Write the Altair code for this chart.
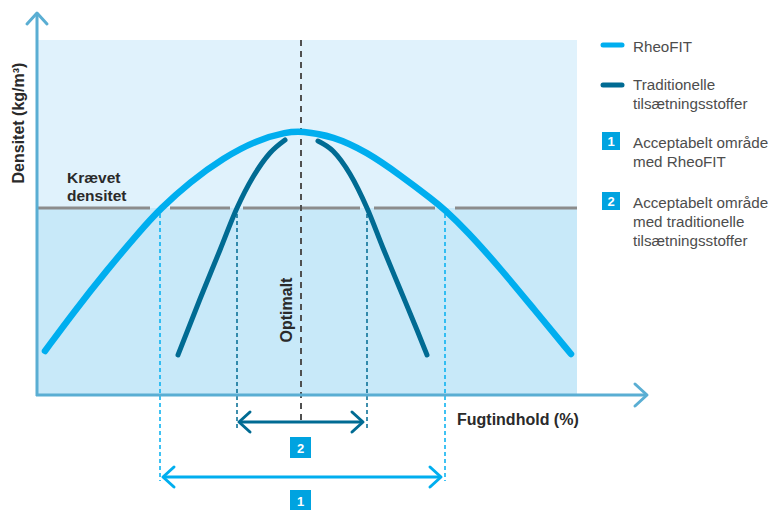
import altair as alt
import pandas as pd

# ---------------- data (diagram units: x = moisture, y = density drawn downward) ----------------
# RheoFIT curve
rheo_x = [45, 73, 107, 140, 160, 190, 223, 257, 287, 301, 333, 367, 400, 433, 444, 467, 500, 533, 571]
rheo_y = [351, 313, 270, 231, 209, 182, 158, 140, 132, 131, 136, 152, 175, 200, 209, 231, 268, 308, 354]
# Traditional admixtures curve (two visible pieces, passes under the RheoFIT peak)
trad_left_x = [178, 200, 220, 237, 253, 270, 285]
trad_left_y = [355, 299, 250, 208, 177, 153, 140]
trad_right_x = [318, 333, 350, 367, 383, 400, 417, 427]
trad_right_y = [141, 151, 174, 208, 248, 289, 330, 355]

required_density = 208
optimum_x = 301
rheo_range = [160, 445]
trad_range = [237, 367]

# texts
req_label = ["Krævet", "densitet"]
x_title = "Fugtindhold (%)"
y_title = "Densitet (kg/m³)"
opt_label = "Optimalt"
legend_lines = ["RheoFIT", "Traditionelle", "tilsætningsstoffer",
                "Acceptabelt område", "med RheoFIT",
                "Acceptabelt område", "med traditionelle", "tilsætningsstoffer"]
badge_labels = ["1", "2"]

# colours
C_LIGHT = "#00aeef"
C_DARK = "#006b93"
C_AXIS = "#5aaed3"
C_UP = "#e0f2fc"
C_LOW = "#c8e9f9"
C_GRAY = "#8c8c8c"
C_BADGE = "#00a3e0"

# ---------------- scales ----------------
XS = alt.Scale(domain=[8, 769], nice=False, zero=False)
YS = alt.Scale(domain=[8, 502], nice=False, zero=False, reverse=True)


def X(f="x"):
    return alt.X(f"{f}:Q", scale=XS, axis=None)


def Y(f="y"):
    return alt.Y(f"{f}:Q", scale=YS, axis=None)


# background bands
bands = pd.DataFrame({"x": [37, 37], "x2": [577, 577],
                      "y": [40, required_density], "y2": [required_density, 395],
                      "c": [C_UP, C_LOW]})
bg = alt.Chart(bands).mark_rect().encode(
    x=X(), x2="x2:Q", y=Y(), y2="y2:Q", color=alt.Color("c:N", scale=None))

# required density line with gaps where curves cross
seg = pd.DataFrame({"x": [37, 170, 243, 374, 455], "x2": [150, 230, 360, 435, 577],
                    "y": [required_density] * 5})
req_line = alt.Chart(seg).mark_rule(color=C_GRAY, strokeWidth=3).encode(x=X(), x2="x2:Q", y=Y())

# dashed verticals
dv = pd.DataFrame({"x": [rheo_range[0], rheo_range[1], trad_range[0], trad_range[1]],
                   "y": [214, 214, 214, 214], "y2": [481, 481, 431, 431],
                   "c": [C_LIGHT, C_LIGHT, C_DARK, C_DARK]})
dashes = alt.Chart(dv).mark_rule(strokeDash=[4, 3], strokeWidth=1.5).encode(
    x=X(), y=Y(), y2="y2:Q", color=alt.Color("c:N", scale=None))

opt = pd.DataFrame({"x": [optimum_x], "y": [40], "y2": [420]})
opt_line = alt.Chart(opt).mark_rule(strokeDash=[6, 5], strokeWidth=2, color="#505050").encode(
    x=X(), y=Y(), y2="y2:Q")

# curves
rheo = pd.DataFrame({"x": rheo_x, "y": rheo_y})
rheo_line = alt.Chart(rheo).mark_line(color=C_LIGHT, strokeWidth=6.5, strokeCap="round",
                                      interpolate="basis").encode(x=X(), y=Y())
trad = pd.DataFrame({"x": trad_left_x + trad_right_x, "y": trad_left_y + trad_right_y,
                     "g": ["a"] * len(trad_left_x) + ["b"] * len(trad_right_x)})
trad_line = alt.Chart(trad).mark_line(color=C_DARK, strokeWidth=5, strokeCap="round",
                                      interpolate="monotone").encode(x=X(), y=Y(), detail="g:N")

# axes (lines + arrow heads)
ax = pd.DataFrame({"x": [37, 36], "x2": [37, 647], "y": [13, 395], "y2": [396, 395]})
axes = alt.Chart(ax).mark_rule(color=C_AXIS, strokeWidth=3).encode(x=X(), x2="x2:Q", y=Y(), y2="y2:Q")


def chevrons(pts, color, width):
    rows = []
    for gi, p in enumerate(pts):
        for oi, (px, py) in enumerate(p):
            rows.append({"x": px, "y": py, "g": gi, "o": oi})
    return alt.Chart(pd.DataFrame(rows)).mark_line(
        color=color, strokeWidth=width, strokeCap="round", strokeJoin="round").encode(
        x=X(), y=Y(), detail="g:N", order="o:Q")


axis_heads = chevrons([[(27, 24), (37, 13), (47, 24)],
                       [(635, 384), (647, 395), (635, 406)]], C_AXIS, 3)

# range arrows
shafts = pd.DataFrame({"x": [239, 163], "x2": [363, 441], "y": [422, 477],
                       "c": [C_DARK, C_LIGHT]})
shaft = alt.Chart(shafts).mark_rule(strokeWidth=3).encode(
    x=X(), x2="x2:Q", y=Y(), color=alt.Color("c:N", scale=None))
dark_heads = chevrons([[(250, 412), (239, 422), (250, 432)],
                       [(352, 412), (363, 422), (352, 432)]], C_DARK, 3)
light_heads = chevrons([[(174, 467), (163, 477), (174, 487)],
                        [(430, 467), (441, 477), (430, 487)]], C_LIGHT, 3)

# badges
badges = pd.DataFrame({"x": [290, 290, 602, 602], "x2": [311, 311, 620, 620],
                       "y": [490, 437, 132, 192], "y2": [511, 458, 150, 210],
                       "t": [badge_labels[0], badge_labels[1], badge_labels[0], badge_labels[1]]})
badges["cx"] = (badges.x + badges.x2) / 2
badges["cy"] = (badges.y + badges.y2) / 2
badge_rect = alt.Chart(badges).mark_rect(color=C_BADGE).encode(x=X(), x2="x2:Q", y=Y(), y2="y2:Q")
badge_txt = alt.Chart(badges).mark_text(color="white", fontWeight="bold", fontSize=13,
                                        font="Liberation Sans", baseline="middle",
                                        align="center", dy=1).encode(
    x=X("cx"), y=Y("cy"), text="t:N")

# bold labels
bl = pd.DataFrame({"x": [67, 67], "y": [183, 201], "t": req_label})
bold_txt = alt.Chart(bl).mark_text(font="Liberation Sans", fontWeight="bold", fontSize=15.5,
                                   color="#2a2a2a", align="left", baseline="alphabetic").encode(
    x=X(), y=Y(), text="t:N")
xl = pd.DataFrame({"x": [457], "y": [425], "t": [x_title]})
xtitle_txt = alt.Chart(xl).mark_text(font="Liberation Sans", fontWeight="bold", fontSize=16,
                                     color="#2a2a2a", align="left", baseline="alphabetic").encode(
    x=X(), y=Y(), text="t:N")

rl = pd.DataFrame({"x": [24, 292], "y": [123, 310], "t": [y_title, opt_label]})
rot_txt = alt.Chart(rl).mark_text(font="Liberation Sans", fontWeight="bold", fontSize=16,
                                  color="#2a2a2a", align="center", baseline="alphabetic",
                                  angle=270).encode(x=X(), y=Y(), text="t:N")

# legend
leg_sw = pd.DataFrame({"x": [603, 603], "x2": [622, 622], "y": [45, 85], "c": [C_LIGHT, C_DARK]})
leg_lines = alt.Chart(leg_sw).mark_rule(strokeWidth=5, strokeCap="round").encode(
    x=X(), x2="x2:Q", y=Y(), color=alt.Color("c:N", scale=None))
lt = pd.DataFrame({"x": [633] * 8, "y": [52, 90, 109, 148, 167, 208, 227, 246], "t": legend_lines})
leg_txt = alt.Chart(lt).mark_text(font="Liberation Sans", fontSize=15.2, color="#4d4d4d",
                                  align="left", baseline="alphabetic").encode(
    x=X(), y=Y(), text="t:N")

chart = alt.layer(
    bg, req_line, dashes, opt_line, rheo_line, trad_line, axes, axis_heads,
    shaft, dark_heads, light_heads, badge_rect, badge_txt, bold_txt, xtitle_txt, rot_txt,
    leg_lines, leg_txt
).properties(
    width=761, height=494,
    padding={"left": 0, "top": 0, "right": 0, "bottom": 8},
    autosize=alt.AutoSizeParams(type="none"),
    background="white",
).configure_view(strokeWidth=0)

chart.save("out.html", embed_options={"renderer": "svg", "actions": False})
